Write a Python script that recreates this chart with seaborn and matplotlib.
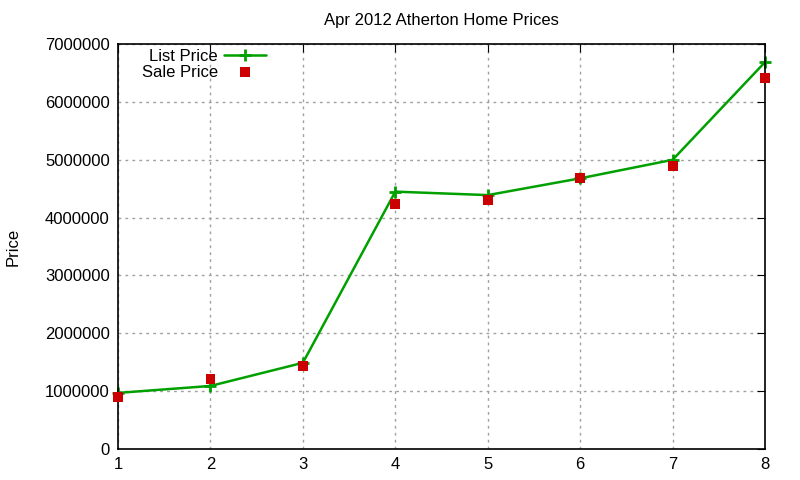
import matplotlib
matplotlib.use("Agg")
import matplotlib.pyplot as plt
import seaborn as sns
import pandas as pd

# month index (x) and prices
months = [1, 2, 3, 4, 5, 6, 7, 8]
list_price = [970000, 1090000, 1490000, 4450000, 4390000, 4680000, 5000000, 6690000]
sale_price = [900000, 1210000, 1440000, 4240000, 4310000, 4690000, 4900000, 6420000]
y_ticks = [0, 1000000, 2000000, 3000000, 4000000, 5000000, 6000000, 7000000]

df = pd.DataFrame({"month": months, "list": list_price, "sale": sale_price})

sns.set_style("white")
plt.rcParams["font.family"] = ["Liberation Sans", "DejaVu Sans"]
plt.rcParams["text.color"] = "black"
plt.rcParams["axes.labelcolor"] = "black"

fig = plt.figure(figsize=(8, 4.8), dpi=100)
ax = fig.add_axes([0.1475, 0.0646, 0.8088, 0.8434])

sns.lineplot(data=df, x="month", y="list", ax=ax, color="#00a000",
             linewidth=1.8, marker="+", markersize=9, markeredgewidth=2,
             markeredgecolor="#00a000", label="List Price")
sns.scatterplot(data=df, x="month", y="sale", ax=ax, color="#cc0000",
                marker="s", s=50, edgecolor="none", label="Sale Price",
                zorder=3)

# let the end markers spill over the frame like the original
for ln in ax.lines:
    ln.set_clip_on(False)
for c in ax.collections:
    c.set_clip_on(False)

ax.set_xlim(1, 8)
ax.set_ylim(0, 7000000)
ax.set_xticks(months)
ax.set_yticks(y_ticks)
ax.set_yticklabels([str(v) for v in y_ticks])
ax.grid(True, color="#a0a0a0", linestyle=(0, (2, 3)), linewidth=1)
ax.tick_params(direction="in", top=True, right=True, length=6,
               labelsize=12, colors="black", pad=6)
for s in ax.spines.values():
    s.set_color("black")
    s.set_linewidth(1.2)

ax.set_xlabel("")
ax.set_ylabel("Price", fontsize=12, color="black")
ax.yaxis.set_label_coords(-0.15, 0.5)
ax.set_title("Apr 2012 Atherton Home Prices", fontsize=12, pad=14,
             color="black")

leg = ax.legend(loc="upper left", bbox_to_anchor=(0.0185, 1.017),
                frameon=False, markerfirst=False, fontsize=12,
                handlelength=2.5, handletextpad=0.4, borderaxespad=0.3,
                labelspacing=0.05)
for t in leg.get_texts():
    t.set_color("black")

fig.savefig("out.png", dpi=100)
